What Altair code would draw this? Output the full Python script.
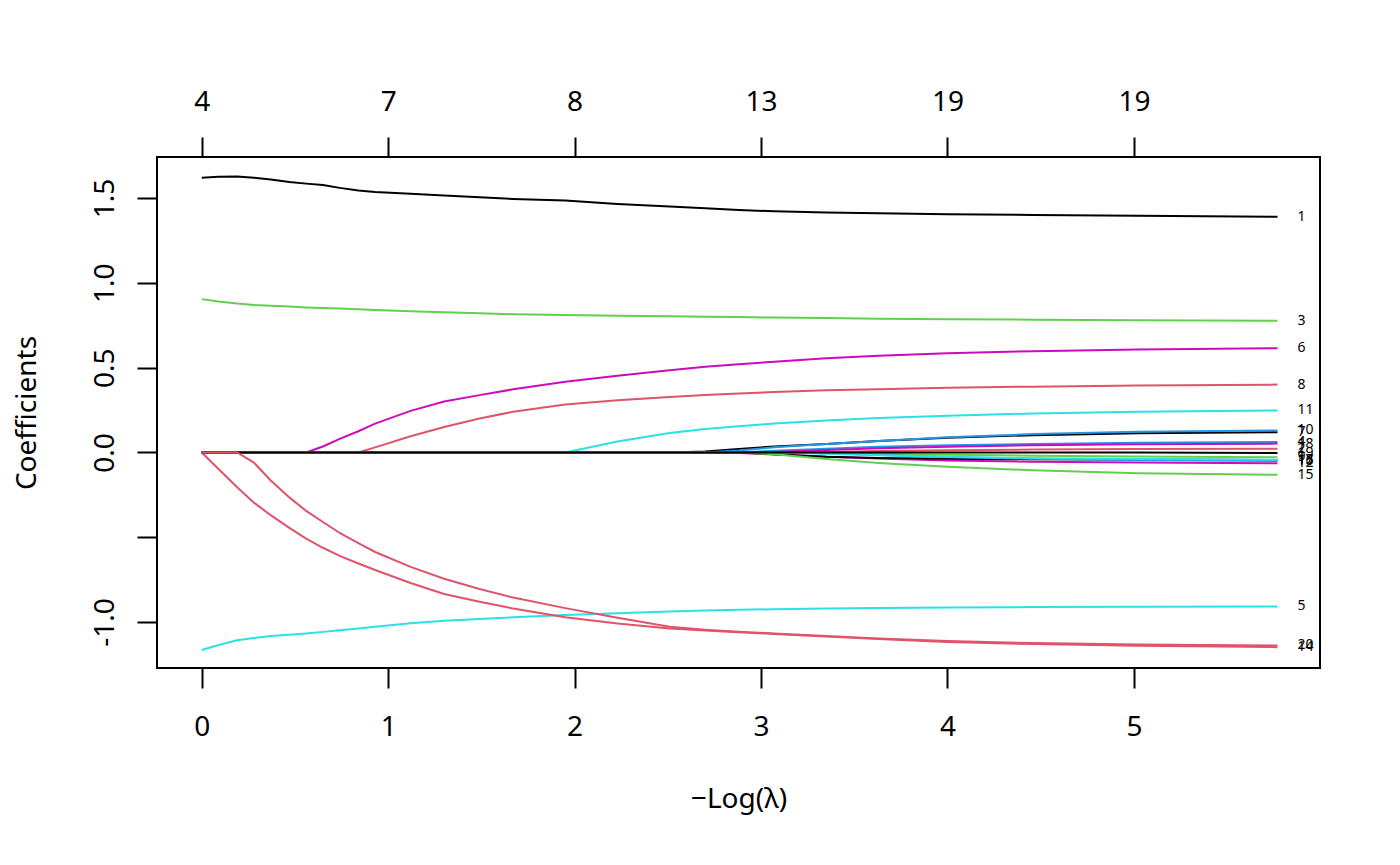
import altair as alt
import pandas as pd
import json

# -log(lambda) grid
x_vals = [0, 0.09, 0.19, 0.28, 0.37, 0.47, 0.56, 0.65, 0.74, 0.84, 0.93, 1.12, 1.30, 1.49,
          1.67, 1.95, 2.23, 2.51, 2.70, 2.88, 3.07, 3.35, 3.63, 4.00, 4.46, 5.02, 5.77]

s1 = [1.62, 1.625, 1.627, 1.62, 1.61, 1.595, 1.585, 1.577, 1.56, 1.545, 1.535, 1.525, 1.515, 1.505,
      1.495, 1.485, 1.465, 1.45, 1.44, 1.43, 1.422, 1.415, 1.41, 1.405, 1.40, 1.395, 1.39]
s2 = [0, 0, 0, 0, 0, 0, 0, 0, 0, 0, 0, 0, 0, 0,
      0, 0, 0, 0, 0, 0, 0, 0.002, 0.008, 0.013, 0.017, 0.020, 0.022]
s3 = [0.904, 0.89, 0.878, 0.87, 0.865, 0.86, 0.855, 0.852, 0.848, 0.845, 0.84, 0.833, 0.826, 0.82,
      0.815, 0.81, 0.806, 0.803, 0.80, 0.798, 0.795, 0.792, 0.789, 0.786, 0.783, 0.78, 0.776]
s4 = [0, 0, 0, 0, 0, 0, 0, 0, 0, 0, 0, 0, 0, 0,
      0, 0, 0, 0, 0, 0, 0.010, 0.022, 0.033, 0.042, 0.050, 0.057, 0.062]
s5 = [-1.165, -1.135, -1.108, -1.094, -1.083, -1.075, -1.067, -1.058, -1.048, -1.038, -1.028, -1.007, -0.993, -0.982,
      -0.972, -0.958, -0.948, -0.938, -0.932, -0.928, -0.924, -0.920, -0.917, -0.914, -0.912, -0.910, -0.908]
s6 = [0, 0, 0, 0, 0, 0, 0, 0.035, 0.08, 0.125, 0.17, 0.245, 0.30, 0.338,
      0.372, 0.417, 0.452, 0.485, 0.505, 0.52, 0.535, 0.555, 0.57, 0.585, 0.597, 0.607, 0.614]
s7 = [0, 0, 0, 0, 0, 0, 0, 0, 0, 0, 0, 0, 0, 0,
      0, 0, 0, 0, 0.005, 0.020, 0.035, 0.050, 0.067, 0.087, 0.102, 0.113, 0.119]
s8 = [0, 0, 0, 0, 0, 0, 0, 0, 0, 0, 0.03, 0.095, 0.15, 0.20,
      0.24, 0.283, 0.308, 0.327, 0.338, 0.348, 0.356, 0.366, 0.373, 0.381, 0.388, 0.394, 0.40]
s9 = [0, 0, 0, 0, 0, 0, 0, 0, 0, 0, 0, 0, 0, 0,
      0, 0, 0, 0, 0, 0, 0, -0.003, -0.008, -0.014, -0.019, -0.024, -0.028]
s10 = [0, 0, 0, 0, 0, 0, 0, 0, 0, 0, 0, 0, 0, 0,
       0, 0, 0, 0, 0, 0.012, 0.030, 0.050, 0.068, 0.090, 0.108, 0.122, 0.130]
s11 = [0, 0, 0, 0, 0, 0, 0, 0, 0, 0, 0, 0, 0, 0,
       0, 0, 0.065, 0.115, 0.138, 0.155, 0.17, 0.188, 0.203, 0.217, 0.23, 0.24, 0.248]
s12 = [0, 0, 0, 0, 0, 0, 0, 0, 0, 0, 0, 0, 0, 0,
       0, 0, 0, 0, 0, -0.003, -0.012, -0.025, -0.036, -0.047, -0.055, -0.060, -0.064]
s13 = [0, 0, 0, 0, 0, 0, 0, 0, 0, 0, 0, 0, 0, 0,
       0, 0, 0, 0, 0, 0, -0.010, -0.025, -0.033, -0.037, -0.040, -0.042, -0.044]
s14 = [0, -0.098, -0.205, -0.296, -0.37, -0.445, -0.508, -0.562, -0.61, -0.655, -0.693, -0.77, -0.835, -0.88,
       -0.92, -0.972, -1.008, -1.038, -1.05, -1.06, -1.07, -1.086, -1.10, -1.117, -1.13, -1.14, -1.148]
s15 = [0, 0, 0, 0, 0, 0, 0, 0, 0, 0, 0, 0, 0, 0,
       0, 0, 0, 0, 0, 0, -0.010, -0.038, -0.062, -0.085, -0.105, -0.122, -0.132]
s16 = [0, 0, 0, 0, 0, 0, 0, 0, 0, 0, 0, 0, 0, 0,
       0, 0, 0, 0, 0, 0, 0, -0.005, -0.015, -0.027, -0.037, -0.045, -0.051]
s17 = [0, 0, 0, 0, 0, 0, 0, 0, 0, 0, 0, 0, 0, 0,
       0, 0, 0, 0, 0, 0, 0, -0.008, -0.017, -0.027, -0.034, -0.039, -0.043]
s18 = [0, 0, 0, 0, 0, 0, 0, 0, 0, 0, 0, 0, 0, 0,
       0, 0, 0, 0, 0, 0, 0.003, 0.015, 0.025, 0.034, 0.042, 0.048, 0.052]
s19 = [0, 0, 0, 0, 0, 0, 0, 0, 0, 0, 0, 0, 0, 0,
       0, 0, 0, 0, 0, 0, 0, 0, 0, 0, 0, 0, -0.003]
s20 = [0, 0, 0, -0.06, -0.165, -0.265, -0.345, -0.41, -0.475, -0.535, -0.587, -0.675, -0.745, -0.805,
       -0.855, -0.918, -0.975, -1.028, -1.045, -1.057, -1.067, -1.082, -1.097, -1.112, -1.124, -1.132, -1.138]

series = [s1, s2, s3, s4, s5, s6, s7, s8, s9, s10, s11, s12, s13, s14, s15, s16, s17, s18, s19, s20]

# top axis: degrees of freedom at each bottom tick
df_ticks = [0, 1, 2, 3, 4, 5]
df_labels = ["4", "7", "8", "13", "19", "19"]

y_tick_values = [-1.0, -0.5, 0.0, 0.5, 1.0, 1.5]
y_tick_labels = ["-1.0", "", "0.0", "0.5", "1.0", "1.5"]

palette = ["#000000", "#DF536B", "#61D04F", "#2297E6", "#28E2E5", "#CD0BBC"]

rows = []
for i, s in enumerate(series):
    assert len(s) == len(x_vals)
    for xv, yv in zip(x_vals, s):
        rows.append({"series": i + 1, "x": xv, "y": yv})
df = pd.DataFrame(rows)

ends = pd.DataFrame({
    "label": [str(i + 1) for i in range(len(series))],
    "x": [x_vals[-1]] * len(series),
    "y": [s[-1] for s in series],
})

FONT = "Noto Sans"
FS = 28

xscale = alt.Scale(domain=[-0.24, 5.998], nice=False, zero=False)
yscale = alt.Scale(domain=[-1.271, 1.742], nice=False, zero=False)

bottom_axis = alt.Axis(values=df_ticks, format="d", title="\u2212Log(\u03bb)",
                       labelFontSize=FS, labelColor="black", labelFont=FONT,
                       tickSize=20, tickWidth=2, tickColor="black",
                       domain=False, grid=False, labelPadding=25, labelOverlap=False,
                       labelFlush=False, titleFontSize=FS, titleFont=FONT,
                       titleFontWeight="normal", titleColor="black", titlePadding=44)

top_expr = json.dumps(df_labels) + "[datum.value]"
top_axis = alt.Axis(values=df_ticks, orient="top", title=None, labelExpr=top_expr,
                    labelFontSize=FS, labelColor="black", labelFont=FONT,
                    tickSize=20, tickWidth=2, tickColor="black",
                    domain=False, grid=False, labelPadding=21, labelOverlap=False,
                    labelFlush=False)

y_expr = " : ".join(f"datum.value == {v} ? '{l}'" for v, l in zip(y_tick_values, y_tick_labels)) + " : ''"
y_axis = alt.Axis(values=y_tick_values, labelExpr=y_expr, title="Coefficients",
                  labelAngle=-90, labelAlign="center", labelBaseline="alphabetic",
                  labelFontSize=FS, labelColor="black", labelFont=FONT,
                  tickSize=20, tickWidth=2, tickColor="black",
                  domain=False, grid=False, labelPadding=24, labelOverlap=False,
                  labelFlush=False, titleFontSize=FS, titleFont=FONT,
                  titleFontWeight="normal", titleColor="black", titlePadding=50)

line_layers = []
for i in range(len(series)):
    line_layers.append(
        alt.Chart(df).transform_filter(alt.datum.series == i + 1)
        .mark_line(strokeWidth=2, color=palette[i % 6], interpolate="linear")
        .encode(x=alt.X("x:Q", scale=xscale, axis=bottom_axis),
                y=alt.Y("y:Q", scale=yscale, axis=y_axis),
                order="x:Q")
    )
lines = alt.layer(*line_layers)

labels = alt.Chart(ends).mark_text(align="left", baseline="middle", dx=20,
                                   fontSize=14, font=FONT, color="black").encode(
    x=alt.X("x:Q", scale=xscale, axis=top_axis),
    y=alt.Y("y:Q", scale=yscale, axis=y_axis),
    text="label:N",
)

chart = alt.layer(lines, labels).resolve_axis(x="independent", y="shared").properties(
    width=1163, height=511,
    autosize=alt.AutoSizeParams(type="none"),
    padding={"left": 149, "top": 149, "right": 60, "bottom": 170},
    background="white",
).configure(font=FONT).configure_view(stroke="black", strokeWidth=2)

chart.save("out.html", embed_options={"renderer": "svg", "actions": False})
